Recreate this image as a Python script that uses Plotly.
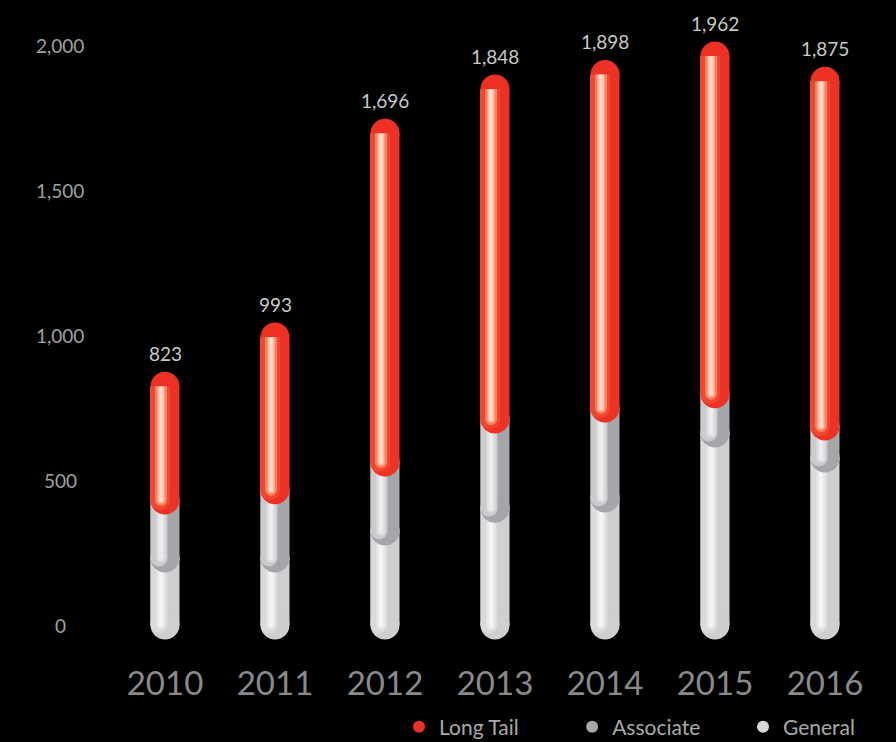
import plotly.graph_objects as go

# ---------------- data ----------------
years = ["2010", "2011", "2012", "2013", "2014", "2015", "2016"]
general = [231, 231, 324, 403, 438, 662, 576]
associate = [200, 235, 238, 307, 310, 135, 110]
long_tail = [392, 527, 1134, 1138, 1150, 1165, 1189]
y_tick_values = [0, 500, 1000, 1500, 2000]
series_names = ["Long Tail", "Associate", "General"]

FONT = "Lato"
PX = 1 / 110.0  # x-axis units per pixel (110 px per category)
NB = "\u00a0"

x = list(range(len(years)))
base_gen = [0] * len(years)
top_gen = [g for g in general]
top_assoc = [g + a for g, a in zip(general, associate)]
totals = [g + a + l for g, a, l in zip(general, associate, long_tail)]

# body layer + highlight layers: (line width px, colour, x offset px)
body = {"General": "#cfcfd1", "Associate": "#a6a6aa", "Long Tail": "#ee3124"}
highlights = {
    "General": [(17, "#dadadc", -6), (9, "#e8e8ea", -4), (4, "#f4f4f5", -4)],
    "Associate": [(17, "#cbcbce", -6), (9, "#dedee0", -4), (4, "#ececee", -4)],
    "Long Tail": [(20, "#f1462f", -5), (12, "#f6825f", -4), (7, "#fcbca2", -4), (3, "#ffe0d2", -4)],
}
legend_colors = {"Long Tail": "#ee3124", "Associate": "#a7a8ac", "General": "#d9d9db"}
legend_pad = {"Long Tail": 9, "Associate": 7, "General": 0}

segments = [
    ("General", base_gen, top_gen),
    ("Associate", top_gen, top_assoc),
    ("Long Tail", top_assoc, totals),
]

fig = go.Figure()

BODY_W = 29
for name, bases, tops in segments:
    # body: rounded at both ends
    xs, ys = [], []
    for i, (b, t) in enumerate(zip(bases, tops)):
        xs += [x[i], x[i], None]
        ys += [b, t, None]
    fig.add_trace(go.Scatter(
        x=xs, y=ys, mode="lines+markers",
        line=dict(color=body[name], width=BODY_W),
        marker=dict(color=body[name], size=BODY_W, line=dict(width=0)),
        hoverinfo="skip", showlegend=False,
    ))
    # highlights: straight lines, rounded only at the segment bottom
    for width, color, dx in highlights[name]:
        xs, ys = [], []
        for i, (b, t) in enumerate(zip(bases, tops)):
            xs += [x[i] + dx * PX, x[i] + dx * PX, None]
            ys += [b, t, None]
        fig.add_trace(go.Scatter(
            x=xs, y=ys, mode="lines",
            line=dict(color=color, width=width),
            hoverinfo="skip", showlegend=False,
        ))
        fig.add_trace(go.Scatter(
            x=[xi + dx * PX for xi in x], y=bases, mode="markers",
            marker=dict(color=color, size=width, line=dict(width=0)),
            hoverinfo="skip", showlegend=False,
        ))

# legend entries
for name in series_names:
    fig.add_trace(go.Scatter(
        x=[None], y=[None], mode="markers", name=name + NB * legend_pad[name],
        marker=dict(color=legend_colors[name], size=17, symbol="circle"),
    ))

# value labels
for i, t in enumerate(totals):
    fig.add_annotation(
        x=x[i], y=t, text=f"{t:,}", showarrow=False,
        xanchor="center", yanchor="middle", yshift=33,
        font=dict(family=FONT, size=19, color="#cacaca"),
    )

# y tick labels (centred)
for v in y_tick_values:
    fig.add_annotation(
        xref="paper", yref="y", x=(60 - 110) / 770.0, y=v,
        text=f"{v:,}", showarrow=False, xanchor="center", yanchor="middle",
        font=dict(family=FONT, size=19, color="#a0a0a0"),
    )

fig.update_layout(
    width=896, height=742,
    margin=dict(l=110, r=16, t=16, b=88, autoexpand=False),
    paper_bgcolor="#000000", plot_bgcolor="#000000",
    showlegend=True,
    legend=dict(
        orientation="h", xanchor="left", yanchor="middle",
        x=(399 - 110) / 770.0, y=(654 - 727) / 638.0,
        font=dict(family=FONT, size=21, color="#a9a9a9"),
        bgcolor="rgba(0,0,0,0)", itemsizing="constant",
    ),
    xaxis=dict(
        range=[-0.5, 6.5], tickmode="array", tickvals=x, ticktext=years,
        showgrid=False, zeroline=False, showline=False, ticks="",
        tickfont=dict(family=FONT, size=33, color="#8a8a8a"),
        ticklabelstandoff=7, fixedrange=True,
    ),
    yaxis=dict(
        range=[-100, 2100], showgrid=False, zeroline=False, showline=False,
        showticklabels=False, ticks="", fixedrange=True,
    ),
)

fig.write_html(
    "out.html",
    config={"displayModeBar": False},
    post_script="document.body.style.margin='0px';document.body.style.overflow='hidden';",
)
